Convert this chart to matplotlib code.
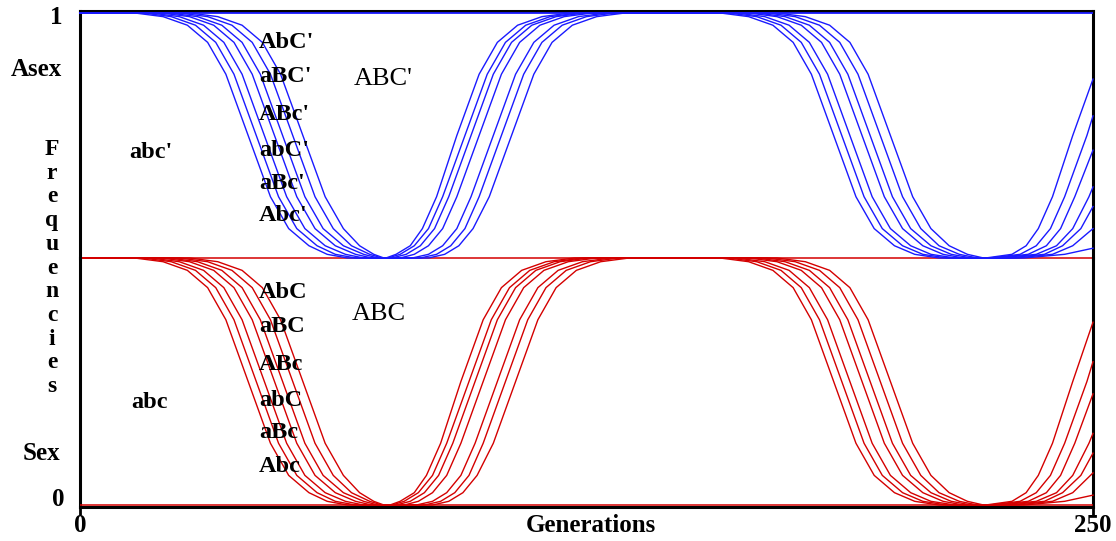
import matplotlib
matplotlib.use("Agg")
import matplotlib.pyplot as plt

W, H = 1116, 541

# frequency levels crossed by each cumulative boundary curve
LEVELS_DOWN = [1.0, 0.985, 0.95, 0.88, 0.75, 0.5, 0.25, 0.12, 0.05, 0.015, 0.0]
LEVELS_UP = LEVELS_DOWN[::-1]

# ---------- Asex (blue): generations at which each boundary crosses the levels
asex_fall1 = [
    [13.5, 20.5, 26.5, 31.5, 36, 41.5, 47, 51.5, 56.5, 61, 66],
    [15.5, 22.5, 28.5, 33.5, 38, 43.5, 49, 53.5, 58.5, 63, 68],
    [17.5, 24.5, 30.5, 35.5, 40, 45.5, 51, 55.5, 60.5, 65.5, 70],
    [20, 27, 33, 38, 42.5, 48, 53.5, 58, 63, 68, 72],
    [22, 29, 35, 40, 44.5, 50, 55.5, 60, 65, 70, 73.5],
    [24.5, 31.5, 37.5, 42.5, 47, 52.5, 58, 62.5, 67, 71.5, 74.5],
    [27, 34, 40, 45, 49.5, 55, 60.5, 65, 69, 72.5, 75],
]
asex_rise1 = [
    [86, 90, 93.5, 97, 101, 106.5, 112, 116.5, 121.5, 127.5, 134.5],
    [84, 88, 91.5, 95, 98.5, 104, 109.5, 114, 119, 125, 132],
    [82, 86, 89.5, 93, 96.5, 102, 107.5, 112, 117, 123, 130],
    [79, 82.5, 86, 89.5, 93, 98.5, 104, 108.5, 113.5, 119.5, 126.5],
    [77, 80.5, 84, 87.5, 91, 96.5, 102, 106.5, 111.5, 117.5, 124.5],
    [76, 79, 82.5, 86, 89.5, 95, 100.5, 105, 110, 116, 123],
    [75.5, 78, 81.5, 84.5, 88, 93, 98.5, 103, 108, 114, 121],
]
asex_fall2 = [
    [158, 165, 171, 176, 180.5, 186, 191.5, 196, 201, 206, 212],
    [160, 167, 173, 178, 182.5, 188, 193.5, 198, 203, 208, 214],
    [162, 169, 175, 180, 184.5, 190, 195.5, 200, 205, 210, 216],
    [165, 172, 178, 183, 187.5, 193, 198.5, 203, 208, 213, 218],
    [167, 174, 180, 185, 189.5, 195, 200.5, 205, 210, 215, 220],
    [169.5, 176.5, 182.5, 187.5, 192, 197.5, 203, 207.5, 212, 217, 221.5],
    [172, 179, 185, 190, 194.5, 200, 205.5, 210, 214.5, 219, 223],
]
asex_rise2 = [
    [233, 243],
    [231, 240, 245],
    [229, 238, 242.5, 247],
    [227, 236, 241, 245, 249],
    [225.5, 234, 238.5, 242, 245.5],
    [224.5, 232, 236, 239.5, 243, 248.5],
    [223.5, 230, 233.5, 236.5, 240, 245],
]
asex_end = [0.04, 0.12, 0.21, 0.29, 0.44, 0.58, 0.73]

# ---------- Sex (red)
sex_fall1 = [
    [13.5, 20.5, 26.5, 31.5, 36, 41.5, 47, 51.5, 56.5, 61, 66],
    [15.5, 22.5, 28.5, 33.5, 38, 43.5, 49, 53.5, 58.5, 63, 68],
    [17.5, 24.5, 30.5, 35.5, 40, 45.5, 51, 55.5, 60.5, 65.5, 70],
    [20, 27, 33, 38, 42.5, 48, 53.5, 58, 63, 68, 72],
    [22, 29, 35, 40, 44.5, 50, 55.5, 60, 65, 70, 73.5],
    [24.5, 31.5, 37.5, 42.5, 47, 52.5, 58, 62.5, 67, 71.5, 74.5],
    [27, 34, 40, 45, 49.5, 55, 60.5, 65, 69, 72.5, 75],
]
sex_rise1 = [
    [87, 91, 94.5, 98, 102, 107.5, 113, 117.5, 122.5, 128.5, 135.5],
    [85, 89, 92.5, 96, 99.5, 105, 110.5, 115, 120, 126, 133],
    [83, 87, 90.5, 94, 97.5, 103, 108.5, 113, 118, 124, 131],
    [80, 83.5, 87, 90.5, 94, 99.5, 105, 109.5, 114.5, 120.5, 127.5],
    [78, 81.5, 85, 88.5, 92, 97.5, 103, 107.5, 112.5, 118.5, 125.5],
    [77, 80, 83.5, 87, 90.5, 96, 101.5, 106, 111, 117, 124],
    [76.5, 79, 82.5, 85.5, 89, 94, 99.5, 104, 109, 115, 122],
]
sex_fall2 = [
    [158, 165, 171, 176, 180.5, 186, 191.5, 196, 201, 206, 212],
    [160, 167, 173, 178, 182.5, 188, 193.5, 198, 203, 208, 214],
    [162, 169, 175, 180, 184.5, 190, 195.5, 200, 205, 210, 216],
    [165, 172, 178, 183, 187.5, 193, 198.5, 203, 208, 213, 218],
    [167, 174, 180, 185, 189.5, 195, 200.5, 205, 210, 215, 220],
    [169.5, 176.5, 182.5, 187.5, 192, 197.5, 203, 207.5, 212, 217, 221.5],
    [172, 179, 185, 190, 194.5, 200, 205.5, 210, 214.5, 219, 223],
]
sex_rise2 = [
    [233, 243],
    [231, 240, 245],
    [229, 238, 242.5, 247],
    [227, 236, 241, 245, 249],
    [225.5, 234, 238.5, 242, 245.5],
    [224.5, 232, 236, 239.5, 243, 248.5],
    [223.5, 230, 233.5, 236.5, 240, 245],
]
sex_end = [0.04, 0.13, 0.21, 0.29, 0.45, 0.58, 0.74]

asex_labels = ["AbC'", "aBC'", "ABc'", "abC'", "aBc'", "Abc'"]
sex_labels = ["AbC", "aBC", "ABc", "abC", "aBc", "Abc"]
x_ticks = [0, 250]
x_ticklabels = ["0", "250"]

BLUE = "#1a1aff"
RED = "#d40000"
FONT = "Liberation Serif"


def curve(f1, r1, f2, r2, end):
    xs = [0] + f1 + r1 + f2 + r2 + [250]
    ys = [1.0] + LEVELS_DOWN + LEVELS_UP + LEVELS_DOWN + LEVELS_UP[:len(r2)] + [end]
    return xs, ys


fig = plt.figure(figsize=(W / 100, H / 100), dpi=100)
fig.patch.set_facecolor("white")


def fx(px):
    return px / W


def fy(py):
    return 1 - py / H


ax_up = fig.add_axes([fx(80), fy(258), fx(1093) - fx(80), fy(11) - fy(258)])
ax_lo = fig.add_axes([fx(80), fy(507), fx(1093) - fx(80), fy(258) - fy(507)])

for ax in (ax_up, ax_lo):
    ax.set_xlim(0, 250)
    ax.set_facecolor("none")
    for s in ax.spines.values():
        s.set_linewidth(2.2)
        s.set_color("black")

ax_up.set_ylim(0, 1.008)
ax_lo.set_ylim(-0.008, 1.0)
ax_up.spines["bottom"].set_visible(False)
ax_lo.spines["top"].set_visible(False)
ax_lo.set_zorder(1)
ax_up.set_zorder(2)

# totals (frequency = 1) boundaries
ax_up.axhline(1.0, color=BLUE, lw=1.3, zorder=3)
ax_lo.axhline(1.0, color=RED, lw=1.1, zorder=3, clip_on=False)
ax_lo.axhline(0.0, color=RED, lw=1.1, zorder=3)

for i in range(7):
    xs, ys = curve(sex_fall1[i], sex_rise1[i], sex_fall2[i], sex_rise2[i], sex_end[i])
    ax_lo.plot(xs, ys, color=RED, lw=1.0, clip_on=False, zorder=4)
for i in range(7):
    xs, ys = curve(asex_fall1[i], asex_rise1[i], asex_fall2[i], asex_rise2[i], asex_end[i])
    ax_up.plot(xs, ys, color=BLUE, lw=1.0, clip_on=False, zorder=4)

ax_up.set_xticks([])
ax_up.set_yticks([])
ax_lo.set_yticks([])
ax_lo.set_xticks(x_ticks)
ax_lo.set_xticklabels([])
ax_lo.tick_params(axis="x", length=6, width=2, direction="out")

tk = dict(fontfamily=FONT, fontweight="bold", fontsize=18, ha="center", va="center", color="black")
fig.text(fx(56), fy(18), "1", **tk)
fig.text(fx(58), fy(500), "0", **tk)
fig.text(fx(80), fy(526), x_ticklabels[0], **tk)
fig.text(fx(1093), fy(526), x_ticklabels[1], **tk)
fig.text(fx(591), fy(526), "Generations", **tk)
fig.text(fx(36), fy(69), "Asex", **tk)
fig.text(fx(41), fy(453), "Sex", **tk)
fig.text(fx(52), fy(268), "\n".join("Frequencies"), fontfamily=FONT, fontweight="bold",
         fontsize=17, ha="center", va="center", multialignment="center", linespacing=1.17)

lab = dict(fontfamily=FONT, fontsize=17.5, ha="left", va="center", color="black", zorder=10)
up_y = [42, 77, 114, 151, 183, 216]
lo_y = [292, 327, 365, 401, 433, 467]
for t, y in zip(asex_labels, up_y):
    fig.text(fx(259), fy(y), t, fontweight="bold", **lab)
for t, y in zip(sex_labels, lo_y):
    fig.text(fx(259), fy(y), t, fontweight="bold", **lab)
big = dict(lab)
big["fontsize"] = 19
fig.text(fx(354), fy(79), "ABC'", **big)
fig.text(fx(352), fy(314), "ABC", **big)
fig.text(fx(129), fy(153), "abc'", fontweight="bold", **lab)
fig.text(fx(131), fy(403), "abc", fontweight="bold", **lab)

fig.savefig("out.png", dpi=100, facecolor="white")
